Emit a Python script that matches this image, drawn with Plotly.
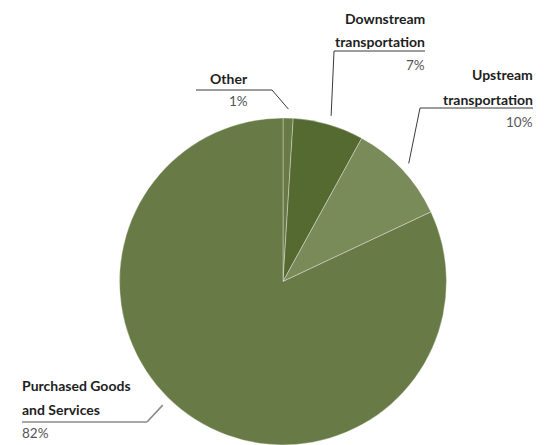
import math
import plotly.graph_objects as go

# Emissions breakdown by category (percent)
categories = ["Other", "Downstream transportation", "Upstream transportation", "Purchased Goods and Services"]
values = [1, 7, 10, 82]
label_lines = [["Other"], ["Downstream", "transportation"], ["Upstream", "transportation"], ["Purchased Goods", "and Services"]]
colors = ["#687a45", "#556a30", "#7a8b5a", "#687a45"]

W, H = 558, 445
# pie domain in pixels
dom_x = (118, 448)
dom_y_top = 118
R = (H - dom_y_top) / 2
CX = (dom_x[0] + dom_x[1]) / 2
CY = dom_y_top + R

fig = go.Figure(go.Pie(
    labels=categories,
    values=values,
    sort=False,
    direction="clockwise",
    rotation=0,
    marker=dict(colors=colors, line=dict(color="rgba(255,255,255,0.35)", width=1)),
    textinfo="none",
    hoverinfo="label+percent",
    domain=dict(x=[dom_x[0] / W, dom_x[1] / W], y=[0, (H - dom_y_top) / H]),
    showlegend=False,
))

def px(x):
    return x / W

def py(y):
    return 1 - y / H

# label layout: anchor x, alignment, first text line y, elbow point, line end x,
# percent line y, and where along the slice the leader points (0..1)
layout_spec = [
    dict(x=248, align="right", y0=78, elbow=(272, 90), end=196, pct_y=101, at=0.5),
    dict(x=425, align="right", y0=18, elbow=(334, 51), end=425, pct_y=65, at=0.5),
    dict(x=533, align="right", y0=75, elbow=(420, 108), end=533, pct_y=122, at=0.5),
    dict(x=22, align="left", y0=385, elbow=(147, 422), end=22, pct_y=433, at=0.54),
]

total = sum(values)
cum = 0
annotations = []
shapes = []
for cat_lines, v, spec in zip(label_lines, values, layout_spec):
    ang = (cum + v * spec["at"]) / total * 2 * math.pi
    cum += v
    tip_r = R + 9
    tx = CX + tip_r * math.sin(ang)
    ty = CY - tip_r * math.cos(ang)
    ex, ey = spec["elbow"]
    left = spec["align"] == "left"
    line_col = "#8a8a8a" if left else "#3a3a3a"
    line_w = 1.6 if left else 1
    shapes.append(dict(type="line", xref="paper", yref="paper",
                       x0=px(tx), y0=py(ty), x1=px(ex), y1=py(ey),
                       line=dict(color=line_col, width=line_w)))
    shapes.append(dict(type="line", xref="paper", yref="paper",
                       x0=px(ex), y0=py(ey), x1=px(spec["end"]), y1=py(ey),
                       line=dict(color=line_col, width=line_w)))
    xanchor = "left" if left else "right"
    for i, t in enumerate(cat_lines):
        annotations.append(dict(
            x=px(spec["x"]), y=py(spec["y0"] + 24 * i), xref="paper", yref="paper",
            text="<b>" + t + "</b>", showarrow=False, xanchor=xanchor, yanchor="middle",
            xshift=-2 if left else 2,
            font=dict(family="Lato", size=14, color="#1e1e1e")))
    annotations.append(dict(
        x=px(spec["x"]), y=py(spec["pct_y"]), xref="paper", yref="paper",
        text=f"{v}%", showarrow=False, xanchor=xanchor, yanchor="middle",
        xshift=-2 if left else 2,
        font=dict(family="Lato", size=13.5, color="#555555")))

fig.update_layout(
    width=W, height=H,
    margin=dict(l=0, r=0, t=0, b=0),
    paper_bgcolor="white",
    plot_bgcolor="white",
    annotations=annotations,
    shapes=shapes,
)

fig.write_html("out.html")
